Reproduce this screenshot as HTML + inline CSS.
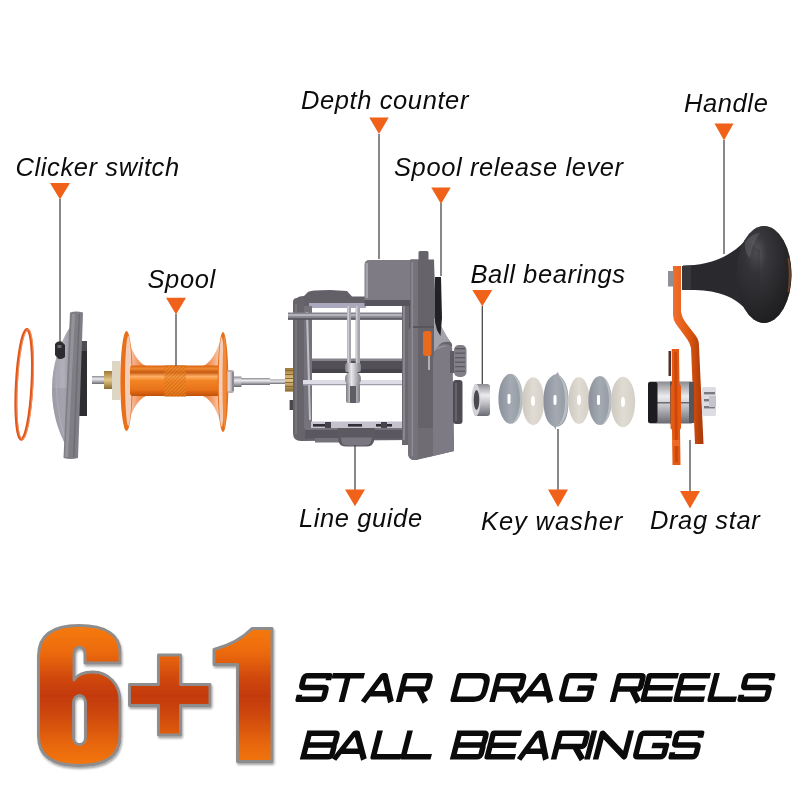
<!DOCTYPE html>
<html><head><meta charset="utf-8"><style>
html,body{margin:0;padding:0;background:#fff;}
svg{display:block;will-change:transform;}
text{font-family:"Liberation Sans",sans-serif;font-style:italic;font-size:25.5px;fill:#0c0c0c;letter-spacing:0.6px;}
</style></head><body>
<svg width="800" height="800" viewBox="0 0 800 800">
<rect width="800" height="800" fill="#ffffff"/>
<defs>
<linearGradient id="orV" x1="0" y1="0" x2="0" y2="1">
<stop offset="0" stop-color="#d86010"/><stop offset="0.1" stop-color="#f08a30"/><stop offset="0.22" stop-color="#c85810"/><stop offset="0.36" stop-color="#ffb066"/><stop offset="0.5" stop-color="#f28424"/><stop offset="0.8" stop-color="#e8721a"/><stop offset="1" stop-color="#c05008"/>
</linearGradient>
<linearGradient id="cone" x1="0" y1="0" x2="1" y2="0">
<stop offset="0" stop-color="#f8d8c8"/><stop offset="0.5" stop-color="#f4a070"/><stop offset="1" stop-color="#ee7a28"/>
</linearGradient>
<linearGradient id="cone2" x1="1" y1="0" x2="0" y2="0">
<stop offset="0" stop-color="#f8d8c8"/><stop offset="0.5" stop-color="#f4a070"/><stop offset="1" stop-color="#ee7a28"/>
</linearGradient>
<linearGradient id="flg" x1="0" y1="0" x2="1" y2="0">
<stop offset="0" stop-color="#d85e10"/><stop offset="0.4" stop-color="#f59040"/><stop offset="1" stop-color="#e06a14"/>
</linearGradient>
<linearGradient id="silV" x1="0" y1="0" x2="0" y2="1">
<stop offset="0" stop-color="#8a8a90"/><stop offset="0.35" stop-color="#ececf0"/><stop offset="0.6" stop-color="#c0c0c6"/><stop offset="1" stop-color="#6a6a72"/>
</linearGradient>
<linearGradient id="silH" x1="0" y1="0" x2="1" y2="0">
<stop offset="0" stop-color="#7a7a80"/><stop offset="0.4" stop-color="#e8e8ec"/><stop offset="1" stop-color="#808088"/>
</linearGradient>
<linearGradient id="goldV" x1="0" y1="0" x2="0" y2="1">
<stop offset="0" stop-color="#a07838"/><stop offset="0.5" stop-color="#e4c888"/><stop offset="1" stop-color="#8a6a30"/>
</linearGradient>
<linearGradient id="plateG" x1="0" y1="0" x2="1" y2="0">
<stop offset="0" stop-color="#a09ea8"/><stop offset="0.5" stop-color="#b2b0ba"/><stop offset="1" stop-color="#8e8c94"/>
</linearGradient>
<radialGradient id="knobR" cx="0.35" cy="0.28" r="0.8">
<stop offset="0" stop-color="#5a595e"/><stop offset="0.25" stop-color="#38373b"/><stop offset="0.7" stop-color="#262528"/><stop offset="1" stop-color="#1c1b1e"/>
</radialGradient>
<linearGradient id="armG" x1="0" y1="0" x2="1" y2="0">
<stop offset="0" stop-color="#f07030"/><stop offset="0.5" stop-color="#e05810"/><stop offset="1" stop-color="#a83808"/>
</linearGradient>
<linearGradient id="wG" x1="0" y1="0" x2="1" y2="0">
<stop offset="0" stop-color="#8a909a"/><stop offset="0.5" stop-color="#a4aab2"/><stop offset="1" stop-color="#9298a0"/>
</linearGradient>
<linearGradient id="wB" x1="0" y1="0" x2="1" y2="0">
<stop offset="0" stop-color="#cdc8be"/><stop offset="0.5" stop-color="#e0dcd4"/><stop offset="1" stop-color="#d4d0c8"/>
</linearGradient>
<pattern id="knurl" width="2.6" height="2.6" patternUnits="userSpaceOnUse" patternTransform="rotate(45)">
<rect width="2.6" height="2.6" fill="#ee8a2a"/><rect width="0.9" height="2.6" fill="#c8600e"/>
</pattern>
</defs>

<!-- orange ring -->
<ellipse cx="24.2" cy="384.3" rx="7.8" ry="55" fill="none" stroke="#e2561a" stroke-width="3" transform="rotate(3 24 384)"/>
<ellipse cx="24.2" cy="384.3" rx="7.8" ry="55" fill="none" stroke="#f7a070" stroke-width="0.8" transform="rotate(3 24 384) translate(1,0)"/>

<!-- clicker side plate -->
<path d="M70,327 C59,344 52,366 52,388 C52,412 58,432 67,447 L71,447 L74,327 Z" fill="url(#plateG)"/>
<path d="M52,388 C52,412 58,432 67,447 L71,447 L73,388 Z" fill="#9896a0" opacity="0.5"/>
<path d="M56,370 C56,400 60,425 66,440" fill="none" stroke="#b4b2bc" stroke-width="1.2" opacity="0.7"/>
<rect x="79" y="346" width="8" height="70" fill="#2e2d31"/>
<rect x="80" y="341" width="7" height="10" fill="#4e4c52"/>
<path d="M70,312.5 Q76,310.5 83,312.5 L78,458 Q71,460 63.5,458 Z" fill="#807e85"/>
<path d="M72,314 L75,314 L68,457 L65,457 Z" fill="#95939a"/>
<path d="M78.5,314 L80,314 L74.5,457 L73,457 Z" fill="#6e6c72"/>
<path d="M55,344 Q57,340.5 61.5,341.5 L65,345 L65,357 Q62,360 58,358.5 L55,355 Z" fill="#2c2b2f"/>
<rect x="57.5" y="345" width="4" height="3" fill="#6a686e"/>
<!-- spool -->
<rect x="92" y="376" width="13" height="8" fill="url(#silV)"/>
<rect x="104" y="371" width="10" height="18" fill="url(#goldV)"/>
<rect x="112" y="361" width="8" height="39" fill="#ddd6c4"/>
<path d="M127,334 C131,350 137,362 146,366 L146,396 C137,400 131,412 127,428 Z" fill="url(#cone)"/>
<path d="M222,334 C218,350 212,362 203,366 L203,396 C212,400 218,412 222,428 Z" fill="url(#cone2)"/>
<ellipse cx="126.5" cy="381" rx="6.2" ry="50" fill="#e8701a"/>
<ellipse cx="128.3" cy="381" rx="3.3" ry="45" fill="#f4cdb8"/>
<rect x="130" y="365.5" width="90" height="30.5" rx="3" fill="url(#orV)"/>
<rect x="164.5" y="365.5" width="21.5" height="31" fill="url(#knurl)"/>
<rect x="164.5" y="365.5" width="21.5" height="31" fill="url(#orV)" opacity="0.4"/>
<ellipse cx="223" cy="382" rx="5.4" ry="50" fill="#e8701a"/>
<ellipse cx="221.6" cy="382" rx="2.8" ry="45" fill="#f4cdb8"/>
<ellipse cx="224.5" cy="382" rx="2" ry="46" fill="#f08a3a"/>
<rect x="227" y="370" width="7" height="23" rx="2" fill="#b8b0b4"/>
<rect x="228" y="372" width="2.5" height="19" fill="#d8d4d8"/>
<rect x="232" y="372" width="2" height="19" fill="#8a8a90"/>
<rect x="234" y="376.5" width="7.5" height="10.5" fill="url(#silV)"/>
<rect x="241" y="378" width="29" height="7" fill="url(#silV)"/>
<rect x="270" y="379.5" width="15" height="4.5" fill="url(#silV)"/>

<!-- main body -->
<rect x="285" y="368" width="8" height="23.6" fill="url(#goldV)"/><rect x="285" y="370" width="8" height="1" fill="#8a6a30"/><rect x="285" y="374" width="8" height="1" fill="#8a6a30"/><rect x="285" y="378" width="8" height="1" fill="#8a6a30"/><rect x="285" y="382" width="8" height="1" fill="#8a6a30"/><rect x="285" y="386" width="8" height="1" fill="#8a6a30"/>
<rect x="289.6" y="400" width="5" height="10" fill="#4a484e"/>
<!-- top plate -->
<path d="M294,306 L296,299 Q298,296 304,296 L308,292 Q311,290 330,290 L347,291 L352,296.5 L366,296.5 L366,306 Z" fill="#636068"/>
<rect x="309" y="303" width="57" height="5" fill="#aaa8bc"/>
<!-- left frame -->
<path d="M293,302 Q293,298 297,298 L304,298 L304,428 L410,428 L410,440 L301,441 Q293,441 293,433 Z" fill="#67646c"/>
<rect x="295" y="304" width="2" height="130" fill="#77747c"/>
<path d="M304,306 L312,306 L312,428 L304,428 Z" fill="#75727a"/>
<path d="M306,312 L308,312 L311,420 L309,420 Z" fill="#c0bec8"/>
<!-- top rod -->
<rect x="288" y="312.5" width="120" height="7" fill="#85838b"/>
<rect x="288" y="314" width="120" height="2.2" fill="#b4b2ba"/>
<rect x="288" y="318.3" width="120" height="1.4" fill="#4e4c54"/>
<!-- level wind bar -->
<rect x="312" y="359" width="91" height="14" fill="#524f57"/>
<rect x="312" y="358.5" width="91" height="2.5" fill="#85828a"/>
<rect x="312" y="369" width="91" height="4" fill="#46434a"/>
<rect x="303" y="380" width="100" height="5.2" fill="#dedce6"/>
<rect x="303" y="384" width="100" height="1.2" fill="#a09ea8"/>
<!-- bottom -->
<rect x="311" y="421.5" width="92" height="7" fill="#c4c2cc"/>
<rect x="313" y="424" width="13" height="2.6" fill="#303036"/><rect x="325" y="422" width="6" height="6" fill="#46444a"/><rect x="348" y="424" width="14" height="2.6" fill="#303036"/><rect x="376" y="424" width="16" height="2.6" fill="#303036"/><rect x="381" y="422" width="6" height="6" fill="#46444a"/>
<rect x="305" y="428" width="105" height="10.5" fill="#5a5760"/>
<rect x="305" y="428" width="105" height="1.8" fill="#7a7780"/>
<rect x="315" y="438" width="26" height="4.5" fill="#75727a"/>
<path d="M337.5,428 L375,428 L374,441 Q373,446.5 366,446.5 L347,446.5 Q339,446.5 338.5,441 Z" fill="#5c5961"/>
<path d="M341,437.5 L372,437.5 L371,442 Q370,445.5 364,445.5 L349,445.5 Q342,445.5 341.5,442 Z" fill="#7a7780"/>
<!-- line guide rods -->
<rect x="347" y="306" width="4" height="58" fill="#a8a6ac"/>
<rect x="347.6" y="306" width="1.2" height="58" fill="#d8d6dc"/>
<rect x="355.6" y="306" width="4.4" height="58" fill="#a8a6ac"/>
<rect x="356.2" y="306" width="1.2" height="58" fill="#d8d6dc"/>
<rect x="345" y="363" width="16" height="9" rx="2" fill="url(#silH)"/>
<circle cx="353" cy="379" r="8" fill="url(#silH)"/>
<rect x="346" y="383" width="14" height="20" rx="2" fill="url(#silH)"/>
<rect x="350" y="386" width="6" height="17" fill="#5e5e64"/>
<!-- right post -->
<rect x="402" y="300" width="14" height="145" fill="#6b6870"/><rect x="409" y="300" width="2" height="145" fill="#5a5860"/>
<rect x="403" y="306" width="2" height="134" fill="#8a8790"/>
<!-- depth counter -->
<path d="M364.5,265 Q364.5,260 369.5,260 L416,260 L416,300 L364.5,300 Z" fill="#7e7b85"/>
<rect x="365.5" y="263" width="2.5" height="35" fill="#a4a2ab"/>
<rect x="364.5" y="300" width="51.5" height="6" fill="#57545c"/>
<!-- right side plate -->
<path d="M410.5,259.5 L418.5,259.5 L418.5,252.5 Q418.5,251 420,251 L427,251 Q428.5,251 428.5,252.5 L428.5,259.5 L434,259.5 L436,322 L452,344 L454,451 L416,460 Q408,461 408,452 L408,330 L410.5,328 Z" fill="#66636b"/>
<path d="M410.5,259.5 L418,259.5 L418,460 L416,460 Q408,461 408,452 L408,330 L410.5,328 Z" fill="#75727a"/>
<rect x="411.5" y="262" width="1.6" height="194" fill="#8c8992"/>
<path d="M418,428 L433,428 L433,456 L418,459 Z" fill="#6f6c74"/>
<path d="M433,358 Q434,347 441,344.5 Q447,343 452,346.5 L454,451 L433,456 Z" fill="#7d7a83"/>
<path d="M437,349 Q441,346 446,346" fill="none" stroke="#9a97a0" stroke-width="1.2"/>
<rect x="413" y="326" width="21" height="2" fill="#58555d"/>
<path d="M434,318 L440,324 L450,342 Q444,341 440,344 L434,352 Z" fill="#a3a1ab"/>
<path d="M435,277 L441,277 L442,318 L440.5,336 L437,330 L435,322 Z" fill="#222125"/>
<rect x="423" y="331" width="8.5" height="25" rx="2.5" fill="#e96a1c"/>
<rect x="428" y="356" width="2" height="14" fill="#b0b0b4"/>
<rect x="450" y="351" width="5" height="22" fill="#5e5c62"/>
<rect x="454" y="345" width="12.5" height="32" rx="5" fill="#827f87"/>
<rect x="455" y="348" width="10" height="1.3" fill="#5c5a60"/><rect x="455" y="352.5" width="10" height="1.3" fill="#5c5a60"/><rect x="455" y="357" width="10" height="1.3" fill="#5c5a60"/><rect x="455" y="361.5" width="10" height="1.3" fill="#5c5a60"/><rect x="455" y="366" width="10" height="1.3" fill="#5c5a60"/><rect x="455" y="370.5" width="10" height="1.3" fill="#5c5a60"/>
<rect x="453" y="380" width="9.5" height="44" rx="3" fill="#4e4c52"/>
<rect x="455" y="383" width="2" height="38" fill="#66646a"/>

<!-- bearing -->
<rect x="474" y="384" width="16" height="32" rx="3" fill="url(#silV)"/>
<ellipse cx="476" cy="400" rx="4.5" ry="16" fill="#d4d4d8"/>
<ellipse cx="476.5" cy="400" rx="2.8" ry="10" fill="#4a4a50"/>

<!-- washers -->
<ellipse cx="510.6" cy="398.8" rx="12.2" ry="25" fill="url(#wG)"/>
<path d="M512,374 Q523,380 523,399 Q523,418 512,424 Q520,416 520,399 Q520,382 512,374 Z" fill="#c8ccd2" opacity="0.7"/>
<rect x="507.5" y="394" width="3" height="10" rx="1.4" fill="#fff"/>
<ellipse cx="533.2" cy="401.2" rx="11" ry="24" fill="url(#wB)"/>
<ellipse cx="533" cy="401" rx="2" ry="5" fill="#fff"/>
<path d="M556,374 L558,372 L559,375 Q568.5,382 568.5,400.5 Q568.5,426 556,427 L556,430 L554,427 Q543.5,422 543.5,400.5 Q543.5,378 556,374 Z" fill="url(#wG)"/>
<path d="M558,375 Q568,382 568,400.5 Q568,420 558,426 Q565,418 565,400.5 Q565,383 558,375 Z" fill="#c8ccd2" opacity="0.7"/>
<rect x="553.5" y="395" width="3" height="10" rx="1.4" fill="#fff"/>
<ellipse cx="579" cy="400.5" rx="10.6" ry="23.5" fill="url(#wB)"/>
<ellipse cx="579" cy="400" rx="2" ry="5" fill="#fff"/>
<ellipse cx="600" cy="400.5" rx="11.6" ry="24.5" fill="url(#wG)"/>
<path d="M602,376 Q611.5,382 611.5,400.5 Q611.5,419 602,425 Q609,417 609,400.5 Q609,384 602,376 Z" fill="#c8ccd2" opacity="0.7"/>
<rect x="597" y="395" width="3" height="10" rx="1.4" fill="#fff"/>
<ellipse cx="623" cy="402" rx="12.2" ry="25.3" fill="url(#wB)"/>
<ellipse cx="623" cy="402" rx="2" ry="5" fill="#fff"/>

<!-- handle assembly -->
<ellipse cx="764" cy="274.5" rx="27.5" ry="48.5" fill="url(#knobR)"/>
<path d="M683,265.5 C704,265.5 728,260 745.5,240 L760,250 L760,300 L745.5,309 C728,290 704,290 683,290 Z" fill="#2a292d"/>
<ellipse cx="764" cy="274.5" rx="27.5" ry="48.5" fill="url(#knobR)" opacity="0.7"/>
<path d="M745,242 Q752,233 760,233 Q752,244 750,258 Q744,252 745,242 Z" fill="#6a696e" opacity="0.45"/>
<path d="M789,258 Q793,275 789,292 L787.5,292 Q790,275 787.5,258 Z" fill="#a05a30" opacity="0.6"/>
<rect x="682" y="266" width="9" height="24" fill="#38373b"/>
<rect x="668" y="271" width="5.5" height="15.5" fill="#909096"/>
<path d="M673,266 L681,266 L681,312 Q682,318 686,323 L696,336 Q699,340 699,346 L703.5,444 L695,444 L691,348 Q690,343 687,339 L676,324 Q673,320 673,315 Z" fill="url(#armG)"/>
<rect x="648" y="381.5" width="46" height="42" rx="3" fill="url(#silV)"/>
<rect x="655" y="402" width="38" height="1.5" fill="#6a6a70"/>
<rect x="689" y="382" width="5" height="41" fill="#55555c"/>
<rect x="648" y="382" width="9.5" height="41" rx="2" fill="#1c1c20"/>
<rect x="670" y="381.5" width="2" height="42" fill="#55555a"/>
<rect x="702" y="387" width="14" height="29" rx="1.5" fill="#dcdce2"/>
<rect x="704" y="392" width="11" height="2.4" fill="#7a7a80"/><rect x="704" y="399" width="11" height="2.4" fill="#7a7a80"/><rect x="704" y="406" width="11" height="2.4" fill="#7a7a80"/>
<rect x="709" y="396" width="7" height="11" fill="#c4c4ca"/>
<rect x="668.5" y="351" width="2.5" height="25" fill="#503028"/>
<path d="M671.7,349 L679,349 L679.5,384 L681,386 L681,428 L680,430 L680.5,465 L672.5,465 L672,430 L670.5,428 L670.5,386 L672,384 Z" fill="#e45a12"/>
<path d="M674,352 L677,352 L678,462 L675,462 Z" fill="#b83a08" opacity="0.55"/>
<rect x="672" y="440" width="7.5" height="6" fill="#f07030" opacity="0.8"/>

<line x1="60" y1="199" x2="60" y2="342" stroke="#4a4a4a" stroke-width="1.3"/>
<path d="M50.0,183 H70.0 L60,199.5 Z" fill="#f0621a"/>
<line x1="379" y1="134" x2="379" y2="259" stroke="#4a4a4a" stroke-width="1.3"/>
<path d="M369.25,117.5 H388.75 L379,134.0 Z" fill="#f0621a"/>
<line x1="441" y1="203" x2="441" y2="276" stroke="#4a4a4a" stroke-width="1.3"/>
<path d="M431.25,187.5 H450.75 L441,204.0 Z" fill="#f0621a"/>
<line x1="724" y1="140" x2="724" y2="254" stroke="#4a4a4a" stroke-width="1.3"/>
<path d="M714.5,123.6 H733.5 L724,140.6 Z" fill="#f0621a"/>
<line x1="176" y1="314" x2="176" y2="366" stroke="#4a4a4a" stroke-width="1.3"/>
<path d="M166.0,297.7 H186.0 L176,314.5 Z" fill="#f0621a"/>
<line x1="482.3" y1="306" x2="482.3" y2="384" stroke="#4a4a4a" stroke-width="1.3"/>
<path d="M472.3,290 H492.3 L482.3,306.3 Z" fill="#f0621a"/>
<line x1="355" y1="445" x2="355" y2="490" stroke="#4a4a4a" stroke-width="1.3"/>
<path d="M345.0,489.5 H365.0 L355,506.3 Z" fill="#f0621a"/>
<line x1="558" y1="429" x2="558" y2="490" stroke="#4a4a4a" stroke-width="1.3"/>
<path d="M548.0,489.6 H568.0 L558,507.0 Z" fill="#f0621a"/>
<line x1="690" y1="440" x2="690" y2="492" stroke="#4a4a4a" stroke-width="1.3"/>
<path d="M680.0,491 H700.0 L690,508.4 Z" fill="#f0621a"/>
<text x="15.5" y="175.75">Clicker switch</text>
<text x="301" y="108.75">Depth counter</text>
<text x="394" y="176.25">Spool release lever</text>
<text x="684" y="111.5">Handle</text>
<text x="147.5" y="287.5">Spool</text>
<text x="470.5" y="282.6">Ball bearings</text>
<text x="299" y="527">Line guide</text>
<text x="481" y="530.4" style="letter-spacing:0.9px">Key washer</text>
<text x="650" y="528.5">Drag star</text>

<defs>
<linearGradient id="og" gradientUnits="userSpaceOnUse" x1="0" y1="624" x2="0" y2="767">
<stop offset="0" stop-color="#f67c10"/><stop offset="0.2" stop-color="#ec6a0e"/>
<stop offset="0.38" stop-color="#cf480c"/><stop offset="0.5" stop-color="#c33a0b"/><stop offset="0.62" stop-color="#cc460c"/><stop offset="0.85" stop-color="#e8680f"/><stop offset="1" stop-color="#f37812"/>
</linearGradient>
<filter id="sh" x="-10%" y="-10%" width="130%" height="130%"><feGaussianBlur in="SourceAlpha" stdDeviation="1.2"/><feOffset dx="1" dy="1.5"/><feComponentTransfer><feFuncA type="linear" slope="0.35"/></feComponentTransfer><feMerge><feMergeNode/><feMergeNode in="SourceGraphic"/></feMerge></filter>
</defs>
<g fill="url(#og)" stroke="#8e8c8c" stroke-width="2.9" stroke-linejoin="round" filter="url(#sh)" fill-rule="evenodd">
<path d="M120,663 L120,652 C120,635 106,625.5 79,625.5 C52,625.5 38.5,636 38.5,656 L38.5,736 C38.5,756 52,765.5 79,765.5 C106,765.5 120,756 120,736 L120,701 C120,684 108,672 93,672 C83,672 77,675 74,680 L74,654 C74,650 76.5,647 79.5,647 C82.5,647 85,650 85,654 L85,663 Z M73.5,703 C73.5,698.5 76,695.5 79.5,695.5 C83,695.5 85.5,698.5 85.5,703 L85.5,737 C85.5,741.5 83,744.5 79.5,744.5 C76,744.5 73.5,741.5 73.5,737 Z"/>
<path d="M158.5,655 H180.5 V684.5 H210 V705.5 H180.5 V735 H158.5 V705.5 H129.5 V684.5 H158.5 Z"/>
<path d="M214,649.5 C230,645 243,638 252,628.5 H272 V761.5 H237.5 V664.5 H214 Z"/>
</g>

<g transform="translate(0,673) skewX(-14.5)" fill="none" stroke="#0b0b0b" stroke-width="5.6" stroke-linejoin="round">
<path transform="translate(302,0)" d="M28.2,7.3 V2.8 H6.1 Q3.0999999999999996,2.8 3.0999999999999996,5.8 V11.5 Q3.0999999999999996,14.5 6.1,14.5 H25.2 Q28.2,14.5 28.2,17.5 V23.2 Q28.2,26.2 25.2,26.2 H3.0999999999999996 V21.7"/>
<path transform="translate(333,0)" d="M0,2.8 H32 M16.0,2.8 V29.0"/>
<path transform="translate(367.5,0)" d="M3.08,29.0 L15.8,2.8 H18.2 L30.92,29.0 M6.800000000000001,20.735 H27.200000000000003"/>
<path transform="translate(403,0)" d="M3.0999999999999996,29.0 V2.8 H25.2 Q28.2,2.8 28.2,5.8 V13.0 Q28.2,16.0 25.2,16.0 H3.0999999999999996 M19.84,16.0 L29.88,29.0"/>
<path transform="translate(457,0)" d="M3.0999999999999996,2.8 H24.200000000000003 Q32.2,2.8 32.2,10.8 V18.2 Q32.2,26.2 24.200000000000003,26.2 H3.0999999999999996 Z"/>
<path transform="translate(496.5,0)" d="M3.0999999999999996,29.0 V2.8 H25.2 Q28.2,2.8 28.2,5.8 V13.0 Q28.2,16.0 25.2,16.0 H3.0999999999999996 M19.84,16.0 L29.88,29.0"/>
<path transform="translate(525,0)" d="M3.08,29.0 L16.8,2.8 H19.2 L32.92,29.0 M7.2,20.735 H28.8"/>
<path transform="translate(565,0)" d="M30.2,7.8 V2.8 H6.1 Q3.0999999999999996,2.8 3.0999999999999996,5.8 V23.2 Q3.0999999999999996,26.2 6.1,26.2 H27.2 Q30.2,26.2 30.2,23.2 V15.0 H16.5"/>
<path transform="translate(617,0)" d="M3.0999999999999996,29.0 V2.8 H24.2 Q27.2,2.8 27.2,5.8 V13.0 Q27.2,16.0 24.2,16.0 H3.0999999999999996 M19.2,16.0 L28.88,29.0"/>
<path transform="translate(647,0)" d="M32,2.8 H3.0999999999999996 V26.2 H32 M3.0999999999999996,14.8 H30"/>
<path transform="translate(680,0)" d="M31,2.8 H3.0999999999999996 V26.2 H31 M3.0999999999999996,14.8 H29"/>
<path transform="translate(714,0)" d="M3.0999999999999996,0 V26.2 H29"/>
<path transform="translate(744,0)" d="M29.2,7.3 V2.8 H6.1 Q3.0999999999999996,2.8 3.0999999999999996,5.8 V11.5 Q3.0999999999999996,14.5 6.1,14.5 H26.2 Q29.2,14.5 29.2,17.5 V23.2 Q29.2,26.2 26.2,26.2 H3.0999999999999996 V21.7"/>
</g>
<g transform="translate(0,730.5) skewX(-14.5)" fill="none" stroke="#0b0b0b" stroke-width="5.6" stroke-linejoin="round">
<path transform="translate(307,0)" d="M3.0999999999999996,2.8 H28.2 Q31.2,2.8 31.2,5.8 V11.5 Q31.2,14.5 28.2,14.5 H3.0999999999999996 M28.2,14.5 Q31.2,14.5 31.2,17.5 V23.2 Q31.2,26.2 28.2,26.2 H3.0999999999999996 M3.0999999999999996,0 V29.0"/>
<path transform="translate(338.5,0)" d="M3.08,29.0 L16.8,2.8 H19.2 L32.92,29.0 M7.2,20.735 H28.8"/>
<path transform="translate(377,0)" d="M3.0999999999999996,0 V26.2 H31"/>
<path transform="translate(407,0)" d="M3.0999999999999996,0 V26.2 H31"/>
<path transform="translate(457,0)" d="M3.0999999999999996,2.8 H27.2 Q30.2,2.8 30.2,5.8 V11.5 Q30.2,14.5 27.2,14.5 H3.0999999999999996 M27.2,14.5 Q30.2,14.5 30.2,17.5 V23.2 Q30.2,26.2 27.2,26.2 H3.0999999999999996 M3.0999999999999996,0 V29.0"/>
<path transform="translate(491,0)" d="M31,2.8 H3.0999999999999996 V26.2 H31 M3.0999999999999996,14.8 H29"/>
<path transform="translate(523.5,0)" d="M3.08,29.0 L15.3,2.8 H17.7 L29.92,29.0 M6.6000000000000005,20.735 H26.400000000000002"/>
<path transform="translate(558,0)" d="M3.0999999999999996,29.0 V2.8 H27.2 Q30.2,2.8 30.2,5.8 V13.0 Q30.2,16.0 27.2,16.0 H3.0999999999999996 M21.12,16.0 L31.88,29.0"/>
<path transform="translate(591,0)" d="M3.5,0 V29.0"/>
<path transform="translate(600,0)" d="M3.0999999999999996,29.0 V2.8 L31.2,26.2 V0"/>
<path transform="translate(639,0)" d="M31.2,7.8 V2.8 H6.1 Q3.0999999999999996,2.8 3.0999999999999996,5.8 V23.2 Q3.0999999999999996,26.2 6.1,26.2 H28.2 Q31.2,26.2 31.2,23.2 V15.0 H17.0"/>
<path transform="translate(675,0)" d="M27.2,7.3 V2.8 H6.1 Q3.0999999999999996,2.8 3.0999999999999996,5.8 V11.5 Q3.0999999999999996,14.5 6.1,14.5 H24.2 Q27.2,14.5 27.2,17.5 V23.2 Q27.2,26.2 24.2,26.2 H3.0999999999999996 V21.7"/>
</g>
</svg>
</body></html>
